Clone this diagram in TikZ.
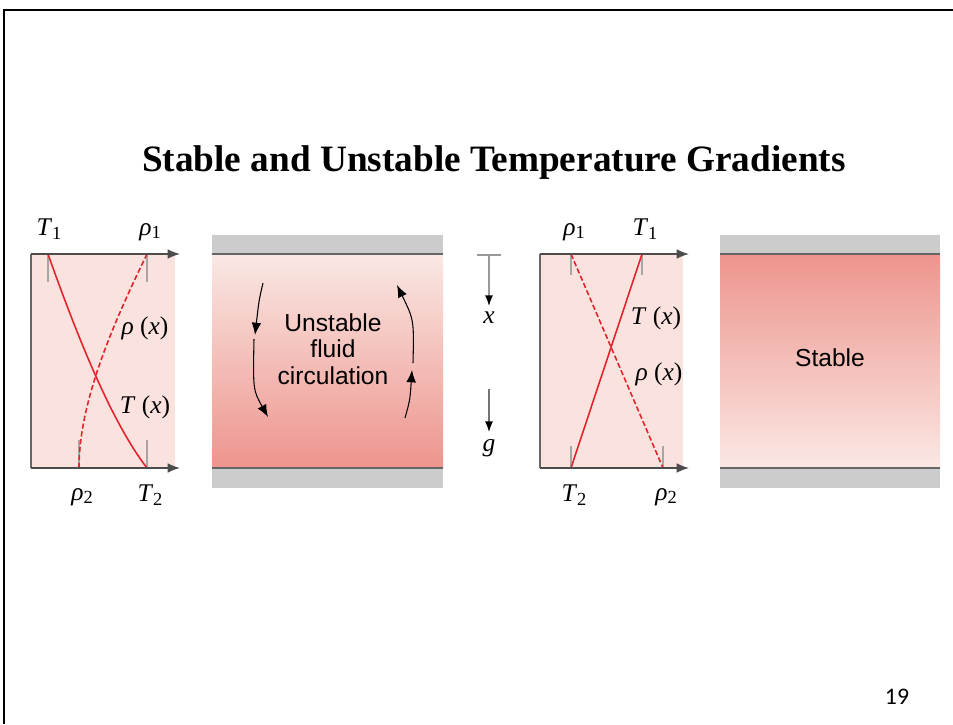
\documentclass[tikz,border=0pt]{standalone}
\usepackage{fontspec}
\newfontfamily\titlefont{Liberation Serif}
\newfontfamily\symfont{Liberation Serif}
\newfontfamily\boxfont{Liberation Sans}
\newfontfamily\pagefont{Carlito}
\usetikzlibrary{arrows.meta}

\definecolor{curvered}{HTML}{E2232C}
\definecolor{pinkbg}{HTML}{FAE3DF}
\definecolor{pinklight}{HTML}{FAE8E4}
\definecolor{pinkdark}{HTML}{EE948D}
\definecolor{bargray}{HTML}{CCCCCC}

% symbol with upright subscript
\newcommand\symsub[2]{\textit{#1}\raisebox{-0.3ex}{\fontsize{10.5}{11}\selectfont #2}}
\newcommand\symof[1]{\textit{#1}\ (\textit{x})}

\begin{document}
\begin{tikzpicture}[x=0.02cm,y=-0.02cm,
    axis/.style={draw=black!70, line width=0.8pt, -{Latex[length=7pt,width=5.5pt]}},
    ticks/.style={draw=black!35, line width=0.8pt},
    curve/.style={draw=curvered, line width=0.9pt},
    flow/.style={draw=black, line width=0.6pt, -{Latex[length=7pt,width=5.5pt]}},
    lbl/.style={font=\symfont\fontsize{14.5}{16}\selectfont, inner sep=1pt},
    boxtext/.style={font=\boxfont\fontsize{14}{16.5}\selectfont, align=center},
    plate/.style={fill=bargray},
    edgeline/.style={draw=black!60, line width=0.8pt}]
  \useasboundingbox (0,0) rectangle (953,724);
  % frame and title
  \draw[line width=1.6pt] (4,724) -- (4,10) -- (953,10);
  \node[font=\titlefont\bfseries\fontsize{21.2}{24}\selectfont] (title) at (494,163) {Stable and Unstable Temperature Gradients};

  % unstable profile
  \fill[pinkbg] (31,254) rectangle (175,468);
  \draw[edgeline] (31,254) -- (31,468);
  \draw[ticks] (48,254) -- (48,282) (147,254) -- (147,282) (79,440) -- (79,468) (147,440) -- (147,468);
  \coordinate (T1a) at (48,254); \coordinate (T2a) at (147,468);
  \coordinate (r1a) at (147,254); \coordinate (r2a) at (79,468);
  \draw[curve] (T1a) .. controls (75,330) and (110,420) .. (T2a);
  \draw[curve, dashed, dash pattern=on 3pt off 1.5pt] (r2a) .. controls (79,400) and (115,320) .. (r1a);
  \draw[axis] (31,254) -- (180,254);
  \draw[axis] (31,468) -- (180,468);
  \node[lbl] (LT1a) at (49,229) {\symsub{T}{1}};
  \node[lbl] (Lr1a) at (150,232) {\symsub{ρ}{1}};
  \node[lbl] (Lrxa) at (145,328) {\symof{ρ}};
  \node[lbl] (LTxa) at (145,407) {\symof{T}};
  \node[lbl] (Lr2a) at (82,497) {\symsub{ρ}{2}};
  \node[lbl] (LT2a) at (150,495) {\symsub{T}{2}};

  % unstable layer
  \shade[top color=pinklight, bottom color=pinkdark] (212,254) rectangle (443,468);
  \fill[plate] (212,235) rectangle (443,254);
  \fill[plate] (212,468) rectangle (443,488);
  \draw[edgeline] (212,254) -- (443,254) (212,468) -- (443,468);
  \node[boxtext] (unst) at (333,349) {Unstable\\[-1.5pt]fluid\\[-1.5pt]circulation};
  \coordinate (c1) at (263,283); \coordinate (c2) at (255,335);
  \coordinate (c3) at (254,339); \coordinate (c4) at (268,417);
  \coordinate (c5) at (405,418); \coordinate (c6) at (412,370);
  \coordinate (c7) at (413,363); \coordinate (c8) at (397,285);
  \draw[flow] (c1) .. controls (259,300) .. (c2);
  \draw[flow] (c3) .. controls (253,390) .. (c4);
  \draw[flow] (c5) .. controls (410,400) .. (c6);
  \draw[flow] (c7) .. controls (414,320) .. (c8);

  % direction of x and g
  \draw[draw=black!40, line width=0.7pt] (477,255) -- (501,255);
  \draw[draw=black!40, line width=0.7pt, -{Latex[length=6pt,width=4.5pt,black]}] (489,255) -- (489,306);
  \node[lbl] (xdir) at (489,318) {\textit{x}};
  \draw[draw=black!55, line width=0.7pt, -{Latex[length=6pt,width=4.5pt,black]}] (489,389) -- (489,432);
  \node[lbl] (gdir) at (489,448) {\textit{g}};

  % stable profile
  \fill[pinkbg] (540,254) rectangle (683,468);
  \draw[edgeline] (540,254) -- (540,468);
  \draw[ticks] (571,254) -- (571,275) (642,254) -- (642,275) (571,446) -- (571,468) (663,446) -- (663,468);
  \coordinate (T1b) at (642,254); \coordinate (T2b) at (571,468);
  \coordinate (r1b) at (571,254); \coordinate (r2b) at (663,468);
  \draw[curve] (T2b) -- (T1b);
  \draw[curve, dashed, dash pattern=on 3pt off 1.5pt] (r1b) -- (r2b);
  \draw[axis] (540,254) -- (689,254);
  \draw[axis] (540,468) -- (689,468);
  \node[lbl] (Lr1b) at (574,232) {\symsub{ρ}{1}};
  \node[lbl] (LT1b) at (645,229) {\symsub{T}{1}};
  \node[lbl] (LTxb) at (656,318) {\symof{T}};
  \node[lbl] (Lrxb) at (659,374) {\symof{ρ}};
  \node[lbl] (LT2b) at (574,495) {\symsub{T}{2}};
  \node[lbl] (Lr2b) at (666,497) {\symsub{ρ}{2}};

  % stable layer
  \shade[top color=pinkdark, bottom color=pinklight] (720,254) rectangle (940,468);
  \fill[plate] (720,235) rectangle (940,254);
  \fill[plate] (720,468) rectangle (940,488);
  \draw[edgeline] (720,254) -- (940,254) (720,468) -- (940,468);
  \node[boxtext] (stab) at (830,358) {Stable};

  % page number
  \node[font=\pagefont\fontsize{13.5}{16}\selectfont] (page) at (897,697) {19};
\end{tikzpicture}
\end{document}
